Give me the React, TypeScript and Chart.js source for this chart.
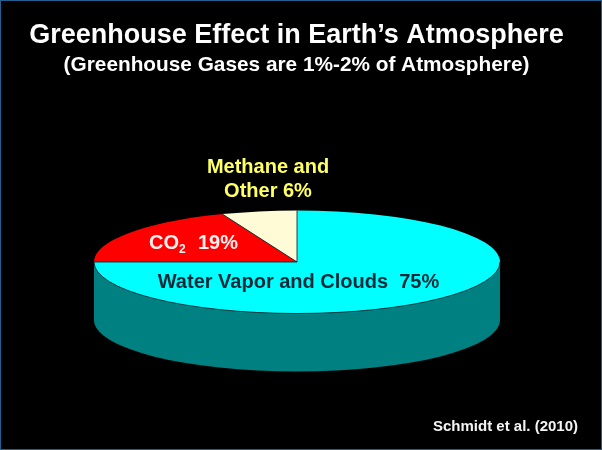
import React, { useEffect, useRef } from "react";
import { Chart, registerables } from "chart.js";

Chart.register(...registerables);

const titleText = "Greenhouse Effect in Earth\u2019s Atmosphere";
const subtitleText = "(Greenhouse Gases are 1%-2% of Atmosphere)";
const sourceText = "Schmidt et al. (2010)";
const categories = ["Water Vapor and Clouds", "CO2", "Methane and Other"];
const shares = [75, 19, 6];
const sliceColors = ["#00FFFF", "#FF0000", "#FFFBD6"];
const sideColor = "#008080";

const FONT = '"Liberation Sans", Arial, sans-serif';
const CX = 297, CY = 262, RX = 203, RY = 51.5, DEPTH = 58;

const pie3d = {
  id: "pie3d",
  beforeDraw(chart: any) {
    const { ctx, width, height } = chart;
    ctx.save();
    ctx.fillStyle = "#000";
    ctx.fillRect(0, 0, width, height);
    ctx.restore();
  },
  beforeDatasetsDraw(chart: any) {
    const { ctx } = chart;
    const arc = chart.getDatasetMeta(0).data[0];
    // extruded side wall
    ctx.save();
    ctx.beginPath();
    ctx.ellipse(CX, CY, RX, RY, 0, 0, Math.PI);
    ctx.lineTo(CX - RX, CY + DEPTH);
    ctx.ellipse(CX, CY + DEPTH, RX, RY, 0, Math.PI, 0, true);
    ctx.closePath();
    ctx.fillStyle = sideColor;
    ctx.fill();
    ctx.restore();
    // flatten the pie into an ellipse
    ctx.save();
    ctx.translate(CX, CY);
    ctx.scale(RX / arc.outerRadius, RY / arc.outerRadius);
    ctx.translate(-arc.x, -arc.y);
  },
  afterDatasetsDraw(chart: any) {
    const { ctx } = chart;
    ctx.restore();
    // thin outlines of the slices
    ctx.save();
    ctx.strokeStyle = "rgba(0,40,50,0.85)";
    ctx.lineWidth = 1;
    ctx.beginPath();
    ctx.moveTo(CX, CY - RY);
    ctx.lineTo(CX, CY);
    ctx.lineTo(CX - RX, CY);
    const a = -Math.PI / 2 - (shares[2] / 100) * 2 * Math.PI;
    ctx.moveTo(CX, CY);
    ctx.lineTo(CX + RX * Math.cos(a), CY + RY * Math.sin(a));
    ctx.stroke();
    ctx.beginPath();
    ctx.ellipse(CX, CY, RX, RY, 0, 0, Math.PI);
    ctx.stroke();
    ctx.restore();
  },
  afterDraw(chart: any) {
    const { ctx, width, height } = chart;
    ctx.save();
    ctx.textBaseline = "alphabetic";
    ctx.textAlign = "center";

    ctx.font = `bold 20px ${FONT}`;
    ctx.fillStyle = "#FFFF66";
    const words = categories[2].split(" ");
    ctx.fillText(`${words[0]} ${words[1]}`, 268, 172.5);
    ctx.fillText(`${words[2]} ${shares[2]}%`, 268, 196.5);

    ctx.textAlign = "left";
    ctx.font = `bold 20px ${FONT}`;
    ctx.fillStyle = "#FFF0F0";
    const base = categories[1].slice(0, 2);
    const sub = categories[1].slice(2);
    ctx.fillText(base, 149, 249);
    const w = ctx.measureText(base).width;
    ctx.font = `bold 12px ${FONT}`;
    ctx.fillText(sub, 149 + w, 253);
    ctx.font = `bold 20px ${FONT}`;
    ctx.fillText(`${shares[1]}%`, 149 + w + 19, 249);

    ctx.font = `bold 20px ${FONT}`;
    ctx.fillStyle = "#082A38";
    ctx.textAlign = "center";
    ctx.fillText(`${categories[0]}  ${shares[0]}%`, 298.5, 288);

    ctx.font = `bold 15px ${FONT}`;
    ctx.fillStyle = "#F4F4F4";
    ctx.textAlign = "right";
    ctx.fillText(sourceText, 578, 430.5);

    ctx.strokeStyle = "#1F5F92";
    ctx.lineWidth = 2;
    ctx.strokeRect(0, 0, width, height);
    ctx.restore();
  },
};

export default function App() {
  const ref = useRef<HTMLCanvasElement | null>(null);
  useEffect(() => {
    const chart = new Chart(ref.current as HTMLCanvasElement, {
      type: "pie",
      data: {
        labels: categories,
        datasets: [{ data: shares, backgroundColor: sliceColors, borderWidth: 0 }],
      },
      options: {
        responsive: false,
        animation: false,
        rotation: 0,
        layout: { padding: { left: 0, right: 9, top: 15, bottom: 0 } },
        plugins: {
          legend: { display: false },
          tooltip: { enabled: false },
          title: {
            display: true,
            text: titleText,
            color: "#FFFFFF",
            font: { family: FONT, size: 27, weight: "bold" },
            padding: { top: 4, bottom: 1 },
          },
          subtitle: {
            display: true,
            text: subtitleText,
            color: "#FFFFFF",
            font: { family: FONT, size: 20.8, weight: "bold" },
            padding: { top: 0, bottom: 0 },
          },
        },
      },
      plugins: [pie3d],
    } as any);
    return () => chart.destroy();
  }, []);
  return (
    <div style={{ position: "fixed", left: 0, top: 0, width: 602, height: 450, background: "#000" }}>
      <canvas ref={ref} width={602} height={450} style={{ display: "block" }} />
    </div>
  );
}
